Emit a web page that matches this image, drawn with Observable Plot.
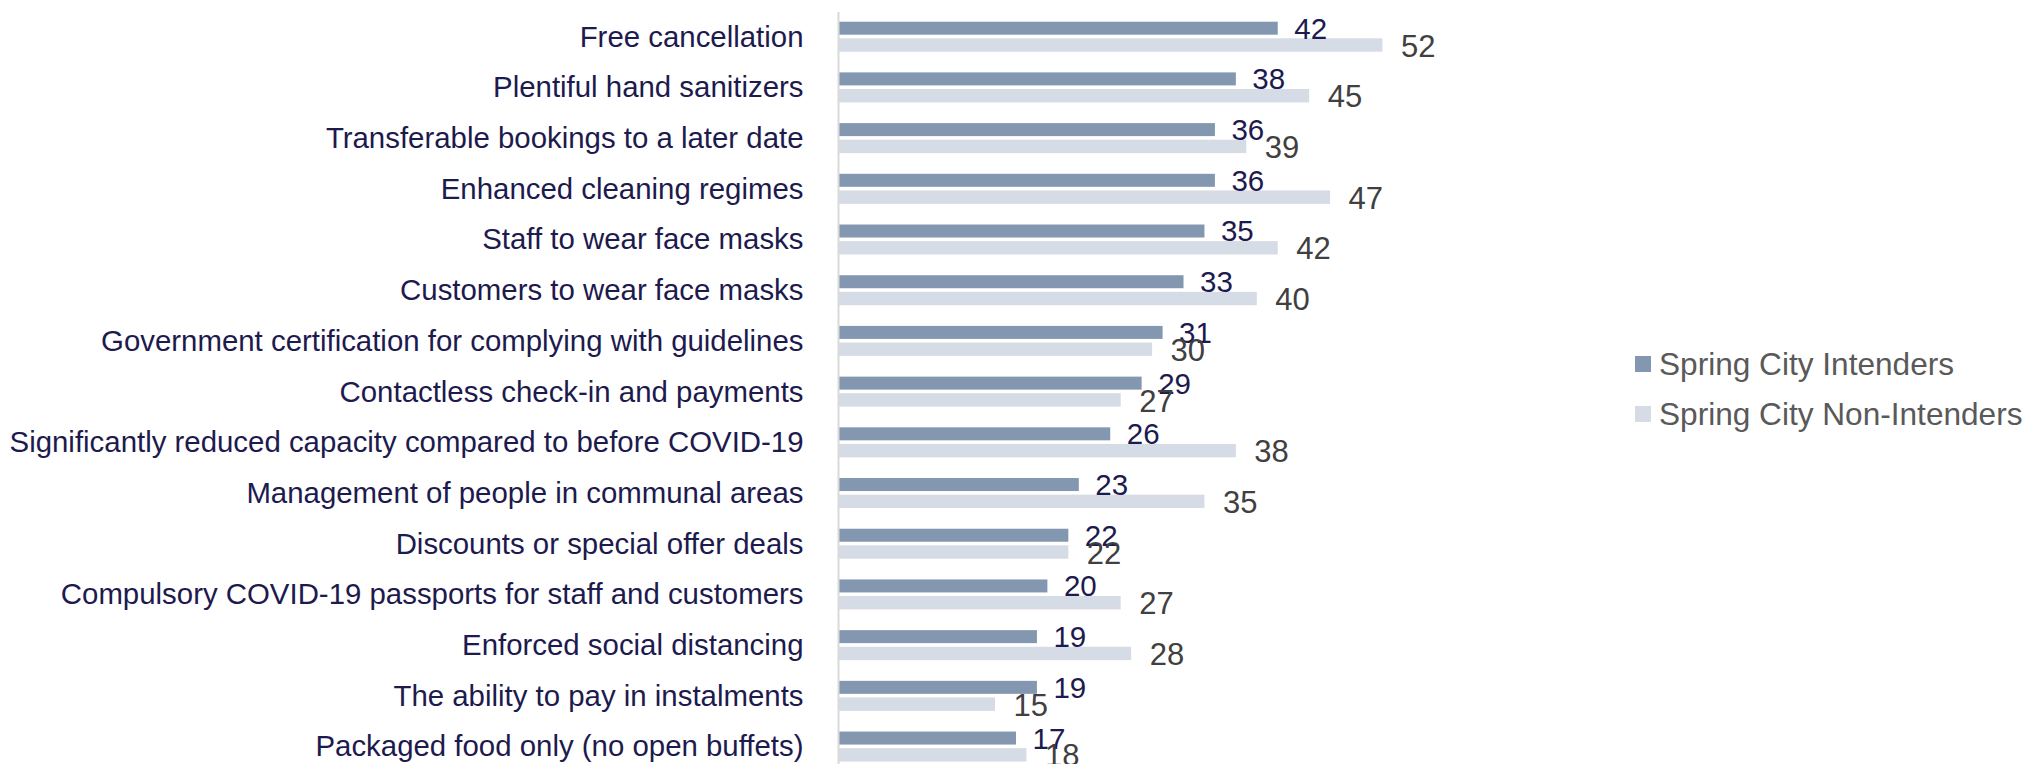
<!DOCTYPE html>
<html>
<head>
<meta charset="utf-8">
<script src="https://cdn.jsdelivr.net/npm/d3@7"></script>
<script src="https://cdn.jsdelivr.net/npm/@observablehq/plot@0.6"></script>
<style>
  html, body { margin: 0; padding: 0; background: #fff; }
  #wrap { position: relative; width: 2029px; height: 764px; overflow: hidden; }
  #legend { position: absolute; left: 1635px; top: 339px; font-family: "Liberation Sans", Arial, sans-serif; font-size: 31.6px; color: #595959; }
  #legend .row { display: flex; align-items: center; height: 50px; white-space: nowrap; }
  #legend .sw { width: 16px; height: 16px; margin-right: 8px; flex: none; }
</style>
</head>
<body>
<div id="wrap"></div>
<script>
const categories = [
  "Free cancellation",
  "Plentiful hand sanitizers",
  "Transferable bookings to a later date",
  "Enhanced cleaning regimes",
  "Staff to wear face masks",
  "Customers to wear face masks",
  "Government certification for complying with guidelines",
  "Contactless check-in and payments",
  "Significantly reduced capacity compared to before COVID-19",
  "Management of people in communal areas",
  "Discounts or special offer deals",
  "Compulsory COVID-19 passports for staff and customers",
  "Enforced social distancing",
  "The ability to pay in instalments",
  "Packaged food only (no open buffets)"
];
const intenders    = [42, 38, 36, 36, 35, 33, 31, 29, 26, 23, 22, 20, 19, 19, 17];
const nonIntenders = [52, 45, 39, 47, 42, 40, 30, 27, 38, 35, 22, 27, 28, 15, 18];
const seriesNames = ["Spring City Intenders", "Spring City Non-Intenders"];
const seriesColors = ["#8497b0", "#d6dce5"];

const rowsI = categories.map((c, i) => ({cat: c, value: intenders[i]}));
const rowsN = categories.map((c, i) => ({cat: c, value: nonIntenders[i]}));

const labelColor = "#1d1a4e";

const chart = Plot.plot({
  width: 2029,
  height: 764,
  marginLeft: 838,
  marginRight: 0,
  marginTop: 12,
  marginBottom: 0,
  style: {fontFamily: "'Liberation Sans', Arial, sans-serif", color: labelColor, background: "#fff"},
  x: {domain: [0, 100], range: [838, 1885], axis: null},
  y: {domain: categories, range: [11.35, 771.9], padding: 0, round: false, axis: null},
  marks: [
    Plot.barX(rowsI, {x: "value", y: "cat", fill: seriesColors[0], insetTop: 10.35, insetBottom: 27.35}),
    Plot.barX(rowsN, {x: "value", y: "cat", fill: seriesColors[1], insetTop: 26.95, insetBottom: 10.35}),
    Plot.ruleX([0], {stroke: "#d9d9d9", strokeWidth: 2}),
    Plot.axisY({anchor: "left", label: null, tickSize: 0, tickPadding: 35, fontSize: 29.4, fill: labelColor}),
    Plot.text(rowsI, {x: "value", y: "cat", text: d => String(d.value), dx: 16, dy: -8, textAnchor: "start", fontSize: 29.5, fill: labelColor}),
    Plot.text(rowsN, {x: "value", y: "cat", text: d => String(d.value), dx: 18, dy: 9.5, textAnchor: "start", fontSize: 31, fill: "#404040"})
  ]
});

const wrap = document.getElementById("wrap");
wrap.appendChild(chart);

const legend = document.createElement("div");
legend.id = "legend";
seriesNames.forEach((name, i) => {
  const row = document.createElement("div");
  row.className = "row";
  const sw = document.createElement("span");
  sw.className = "sw";
  sw.style.background = seriesColors[i];
  const t = document.createElement("span");
  t.textContent = name;
  row.appendChild(sw);
  row.appendChild(t);
  legend.appendChild(row);
});
wrap.appendChild(legend);
</script>
</body>
</html>
